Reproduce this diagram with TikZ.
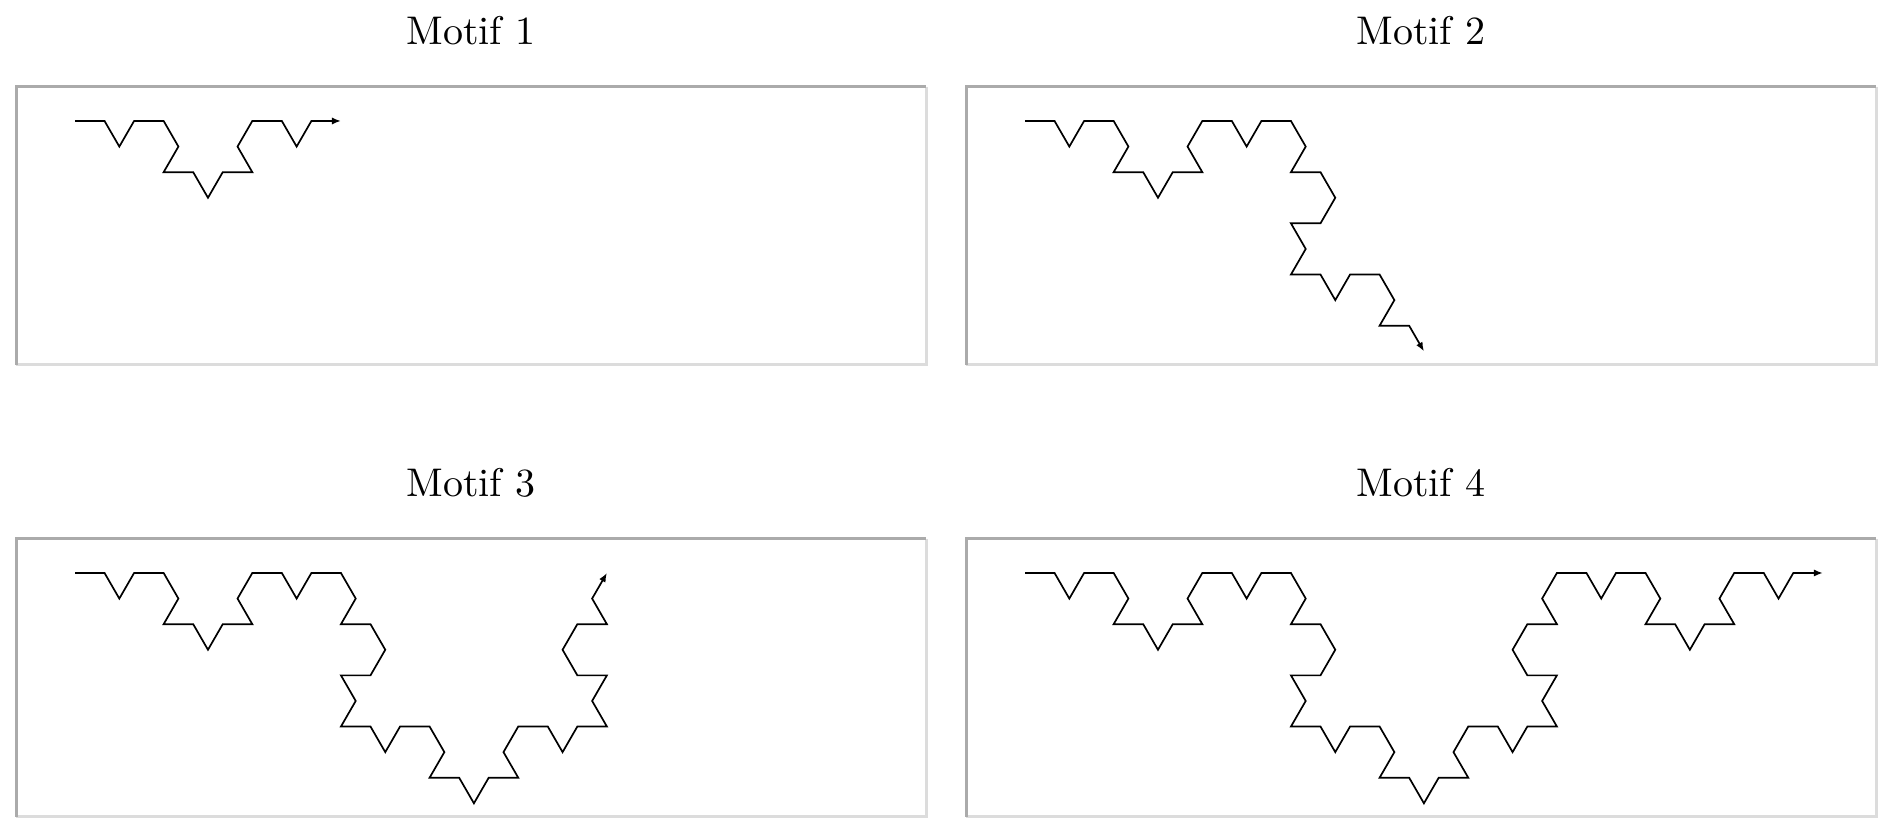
\documentclass[tikz,border=0pt]{standalone}
\usetikzlibrary{arrows.meta}
\definecolor{edgedark}{HTML}{ABABAB}
\definecolor{edgelight}{HTML}{DCDCDC}
\def\kstep{29.55}
% level-1 Koch piece (bump pointing down, i.e. to the right of travel)
\newcommand\kochpiece[1]{-- ++({#1}:\kstep) -- ++({#1-60}:\kstep) -- ++({#1+60}:\kstep) -- ++({#1}:\kstep)}
% level-2 Koch piece
\newcommand\kochmotif[1]{\kochpiece{#1}\kochpiece{#1-60}\kochpiece{#1+60}\kochpiece{#1}}
\tikzset{
  panel/.style={minimum width=455pt, minimum height=139pt, inner sep=0pt, outer sep=0pt, draw=none},
  paneldark/.style={draw=edgedark, line width=1.5pt},
  panellight/.style={draw=edgelight, line width=1.5pt},
  title/.style={anchor=base, inner sep=0pt, font=\normalsize, scale=2, transform shape},
  koch/.style={line width=0.85pt, line join=miter, -{Latex[length=4.5pt,width=3.6pt]}}
}
\begin{document}
\begin{tikzpicture}[x=0.5pt,y=0.5pt]
\useasboundingbox (0,0) rectangle (1897,833);
% panels
\node[panel] (box1) at (471,607) {};
\node[panel] (box2) at (1421,607) {};
\node[panel] (box3) at (471,155) {};
\node[panel] (box4) at (1421,155) {};
\foreach \b in {box1,box2,box3,box4}{
  \draw[panellight] (\b.north east) -- (\b.south east) -- (\b.south west);
  \draw[paneldark] (\b.south west) -- (\b.north west) -- (\b.north east);
}
% titles
\node[title] (t1) at ([yshift=21pt]box1.north) {Motif 1};
\node[title] (t2) at ([yshift=21pt]box2.north) {Motif 2};
\node[title] (t3) at ([yshift=21pt]box3.north) {Motif 3};
\node[title] (t4) at ([yshift=21pt]box4.north) {Motif 4};
% start points
\coordinate (s1) at (75,712);
\coordinate (s2) at (1025,712);
\coordinate (s3) at (75,260);
\coordinate (s4) at (1025,260);
% curves
\draw[koch] (s1) \kochmotif{0};
\draw[koch] (s2) \kochmotif{0}\kochmotif{-60};
\draw[koch] (s3) \kochmotif{0}\kochmotif{-60}\kochmotif{60};
\draw[koch] (s4) \kochmotif{0}\kochmotif{-60}\kochmotif{60}\kochmotif{0};
\end{tikzpicture}
\end{document}
